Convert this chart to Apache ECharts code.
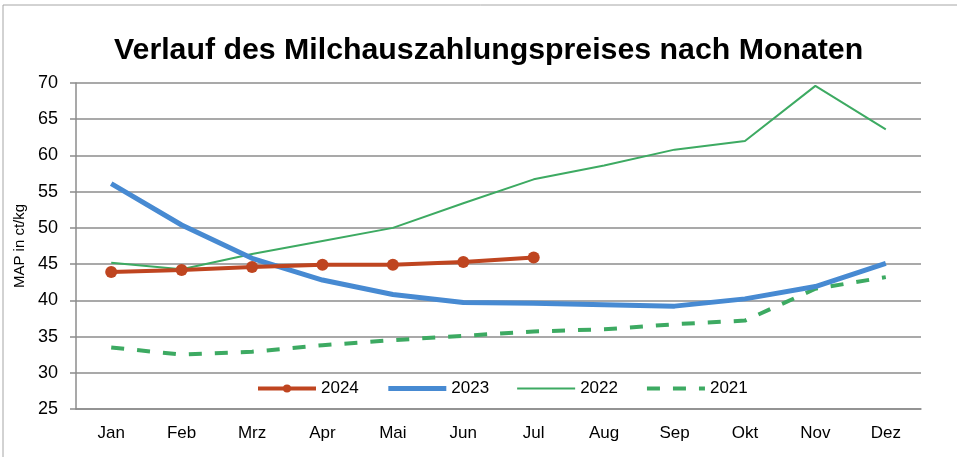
<!DOCTYPE html>
<html>
<head>
<meta charset="utf-8">
<script src="https://cdn.jsdelivr.net/npm/echarts@6/dist/echarts.min.js"></script>
<style>
  html, body { margin: 0; padding: 0; background: #fff; }
  #chart { width: 957px; height: 457px; }
</style>
</head>
<body>
<div id="chart"></div>
<script>
const months = ['Jan', 'Feb', 'Mrz', 'Apr', 'Mai', 'Jun', 'Jul', 'Aug', 'Sep', 'Okt', 'Nov', 'Dez'];
const y2024 = [43.9, 44.2, 44.6, 44.9, 44.9, 45.3, 45.9];
const y2023 = [56.1, 50.4, 45.8, 42.8, 40.8, 39.7, 39.6, 39.4, 39.2, 40.2, 41.9, 45.1];
const y2022 = [45.2, 44.3, 46.4, 48.2, 50.0, 53.4, 56.7, 58.6, 60.8, 62.0, 69.6, 63.6];
const y2021 = [33.5, 32.5, 32.9, 33.8, 34.5, 35.1, 35.7, 36.0, 36.7, 37.2, 41.6, 43.2];

const RED = '#BF4520';
const BLUE = '#478AD2';
const GREEN = '#3DAA62';

const chart = echarts.init(document.getElementById('chart'));

const option = {
  animation: false,
  title: {
    text: 'Verlauf des Milchauszahlungspreises nach Monaten',
    left: 109,
    top: 31,
    textStyle: { fontFamily: 'Liberation Sans', fontSize: 30.3, fontWeight: 'bold', color: '#000' }
  },
  graphic: [{
    type: 'rect',
    shape: { x: 3, y: 5, width: 1000, height: 500 },
    style: { fill: 'none', stroke: '#a6a6a6', lineWidth: 1 }
  }],
  legend: {
    left: 251,
    top: 375,
    itemWidth: 58,
    itemHeight: 10,
    itemGap: 27,
    textStyle: { fontFamily: 'Liberation Sans', fontSize: 17, color: '#000' },
    data: [
      { name: '2024', lineStyle: { width: 4 } },
      { name: '2023', lineStyle: { width: 5 }, itemStyle: { opacity: 0 } },
      { name: '2022', lineStyle: { width: 2 }, itemStyle: { opacity: 0 } },
      { name: '2021', lineStyle: { width: 4 }, itemStyle: { opacity: 0 } }
    ]
  },
  grid: { left: 76, right: 36, top: 83, bottom: 48 },
  xAxis: {
    type: 'category',
    data: months,
    boundaryGap: true,
    axisLine: { lineStyle: { color: '#8c8c8c', width: 1.5 } },
    axisTick: { show: false },
    axisLabel: { fontFamily: 'Liberation Sans', fontSize: 17, color: '#000', margin: 16 }
  },
  yAxis: {
    type: 'value',
    min: 25,
    max: 70,
    interval: 5,
    name: 'MAP in ct/kg',
    nameLocation: 'middle',
    nameGap: 47,
    nameTextStyle: { fontFamily: 'Liberation Sans', fontSize: 15, color: '#000' },
    axisLine: { show: true, lineStyle: { color: '#8c8c8c', width: 1.5 } },
    axisTick: { show: true, length: 6, lineStyle: { color: '#8c8c8c', width: 1.5 } },
    axisLabel: { fontFamily: 'Liberation Sans', fontSize: 18, color: '#000', margin: 18 },
    splitLine: { lineStyle: { color: '#8c8c8c', width: 1.5 } }
  },
  series: [
    {
      name: '2024', type: 'line', data: y2024, z: 5,
      symbol: 'circle', symbolSize: 12,
      lineStyle: { color: RED, width: 4 },
      itemStyle: { color: RED }
    },
    {
      name: '2023', type: 'line', data: y2023, z: 4,
      symbol: 'none',
      lineStyle: { color: BLUE, width: 5 },
      itemStyle: { color: BLUE }
    },
    {
      name: '2022', type: 'line', data: y2022, z: 3,
      symbol: 'none',
      lineStyle: { color: GREEN, width: 2 },
      itemStyle: { color: GREEN }
    },
    {
      name: '2021', type: 'line', data: y2021, z: 2,
      symbol: 'none',
      lineStyle: { color: GREEN, width: 4, type: [13, 13] },
      itemStyle: { color: GREEN }
    }
  ]
};

chart.setOption(option);
</script>
</body>
</html>
